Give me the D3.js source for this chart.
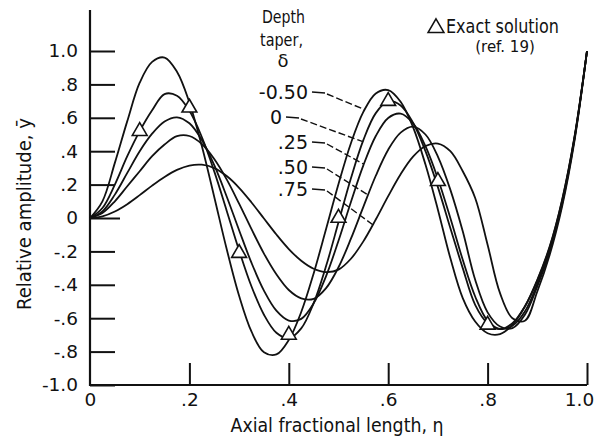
<!DOCTYPE html>
<html>
<head>
<meta charset="utf-8">
<script src="https://cdn.jsdelivr.net/npm/d3@7"></script>
<style>
  body { margin: 0; background: #fff; }
  svg { display: block; }
  text { font-family: "DejaVu Sans", sans-serif; fill: #111; }
</style>
</head>
<body>
<svg id="chart" width="599" height="446"></svg>
<script>
// Axial stations along the beam (fraction of length)
const eta = [0, 0.025, 0.05, 0.075, 0.1, 0.125, 0.15, 0.175, 0.2, 0.225,
             0.25, 0.275, 0.3, 0.325, 0.35, 0.375, 0.4, 0.425, 0.45, 0.475,
             0.5, 0.525, 0.55, 0.575, 0.6, 0.625, 0.65, 0.675, 0.7, 0.725,
             0.75, 0.775, 0.8, 0.825, 0.85, 0.875, 0.9, 0.925, 0.95, 0.975, 1.0];

// Relative amplitude of the mode shape for each depth taper
const ampTaperNeg050 = [0, 0.10, 0.33, 0.58, 0.81, 0.935, 0.961, 0.876, 0.692, 0.431,
  0.126, -0.186, -0.466, -0.681, -0.804, -0.817, -0.730, -0.563, -0.332, -0.066,
  0.204, 0.448, 0.635, 0.746, 0.766, 0.696, 0.544, 0.320, 0.050, -0.240,
  -0.480, -0.620, -0.690, -0.695, -0.64, -0.53, -0.37, -0.17, 0.11, 0.49, 1.0];
const ampTaper000 = [0, 0.06, 0.20, 0.37, 0.52, 0.645, 0.742, 0.732, 0.642, 0.485,
  0.279, 0.044, -0.194, -0.410, -0.579, -0.687, -0.720, -0.661, -0.510, -0.288,
  -0.026, 0.238, 0.466, 0.628, 0.698, 0.674, 0.570, 0.400, 0.185, -0.060,
  -0.300, -0.520, -0.630, -0.665, -0.630, -0.53, -0.375, -0.175, 0.105, 0.485, 1.0];
const ampTaper025 = [0, 0.04, 0.14, 0.27, 0.40, 0.505, 0.578, 0.603, 0.567, 0.467,
  0.316, 0.129, -0.073, -0.269, -0.435, -0.555, -0.614, -0.604, -0.511, -0.348,
  -0.136, 0.096, 0.315, 0.491, 0.599, 0.625, 0.567, 0.430, 0.235, 0.000,
  -0.250, -0.470, -0.615, -0.665, -0.645, -0.56, -0.395, -0.19, 0.095, 0.48, 1.0];
const ampTaper050 = [0, 0.03, 0.10, 0.19, 0.28, 0.37, 0.44, 0.49, 0.491, 0.443,
  0.353, 0.231, 0.086, -0.067, -0.213, -0.337, -0.431, -0.481, -0.484, -0.420,
  -0.295, -0.124, 0.067, 0.253, 0.409, 0.511, 0.547, 0.500, 0.368, 0.170,
  -0.080, -0.370, -0.565, -0.650, -0.660, -0.58, -0.41, -0.20, 0.085, 0.475, 1.0];
const ampTaper075 = [0, 0.010, 0.039, 0.083, 0.137, 0.194, 0.246, 0.288, 0.314, 0.319,
  0.299, 0.251, 0.181, 0.093, -0.003, -0.099, -0.186, -0.256, -0.304, -0.324,
  -0.309, -0.244, -0.140, -0.009, 0.131, 0.262, 0.367, 0.431, 0.446, 0.400,
  0.280, 0.120, -0.160, -0.450, -0.600, -0.615, -0.44, -0.22, 0.07, 0.465, 1.0];

const taperLabels = ["-0.50", "0", ".25", ".50", ".75"];
// station on each curve where its label leader meets it
const leaderEta = [0.553, 0.549, 0.551, 0.5595, 0.569];

// Exact solution for the uniform beam (ref. 19)
const exactEta = [0.1, 0.2, 0.3, 0.4, 0.5, 0.6, 0.7, 0.8];
const exactAmp = [0.52, 0.66, -0.21, -0.70, 0.0, 0.70, 0.22, -0.64];

const xTicks = [0, 0.2, 0.4, 0.6, 0.8, 1.0];
const xTickLabels = ["0", ".2", ".4", ".6", ".8", "1.0"];
const yTicks = [1.0, 0.8, 0.6, 0.4, 0.2, 0, -0.2, -0.4, -0.6, -0.8, -1.0];
const yTickLabels = ["1.0", ".8", ".6", ".4", ".2", "0", "-.2", "-.4", "-.6", "-.8", "-1.0"];

const series = [ampTaperNeg050, ampTaper000, ampTaper025, ampTaper050, ampTaper075];

const svg = d3.select("#chart");
const x = d3.scaleLinear().domain([0, 1]).range([90, 587]);
const y = d3.scaleLinear().domain([-1, 1]).range([385, 51]);
const ink = "#111";

// axes
const yAxis = d3.axisLeft(y).tickValues(yTicks)
  .tickFormat((d, i) => yTickLabels[i]).tickSize(-25).tickSizeOuter(0).tickPadding(12);
const gy = svg.append("g").attr("transform", "translate(90,0)").call(yAxis);
gy.select(".domain").remove();
gy.selectAll(".tick line").attr("stroke", ink).attr("stroke-width", 2)
  .filter(d => d === 0).attr("x2", 30);
gy.selectAll(".tick text").attr("font-size", 18.5).attr("fill", ink);

const xAxis = d3.axisBottom(x).tickValues(xTicks)
  .tickFormat((d, i) => xTickLabels[i]).tickSize(-22).tickSizeOuter(0).tickPadding(8);
const gx = svg.append("g").attr("transform", "translate(0,385)").call(xAxis);
gx.select(".domain").remove();
gx.selectAll(".tick line").attr("stroke", ink).attr("stroke-width", 2)
  .filter(d => d === 0).remove();
gx.selectAll(".tick text").attr("font-size", 18.5).attr("fill", ink)
  .filter(d => d === 1).attr("dx", -8);
gy.attr("font-family", null); gx.attr("font-family", null);

svg.append("line").attr("x1", 90).attr("x2", 90).attr("y1", 10).attr("y2", 386)
  .attr("stroke", ink).attr("stroke-width", 2.2);
svg.append("line").attr("x1", 89).attr("x2", x(1)).attr("y1", 385).attr("y2", 385)
  .attr("stroke", ink).attr("stroke-width", 2.2);

// axis titles
svg.append("text").attr("transform", "translate(31,214) rotate(-90)")
  .attr("text-anchor", "middle").attr("font-size", 19)
  .attr("textLength", 192).attr("lengthAdjust", "spacingAndGlyphs").text("Relative amplitude, ȳ");
svg.append("text").attr("x", 337).attr("y", 432)
  .attr("text-anchor", "middle").attr("font-size", 19)
  .attr("textLength", 213).attr("lengthAdjust", "spacingAndGlyphs").text("Axial fractional length, η");

// mode-shape curves
const line = d3.line().x((d, i) => x(eta[i])).y(d => y(d)).curve(d3.curveCatmullRom.alpha(0.5));
svg.append("g").selectAll("path").data(series).join("path")
  .attr("d", line).attr("fill", "none").attr("stroke", ink).attr("stroke-width", 1.8);

// exact-solution triangles
const tri = d3.symbol().type(d3.symbolTriangle).size(95);
svg.append("g").selectAll("path").data(exactEta).join("path")
  .attr("transform", (d, i) => `translate(${x(d)},${y(exactAmp[i])})`)
  .attr("d", tri).attr("fill", "#fff").attr("stroke", ink).attr("stroke-width", 1.6);

// legend: depth taper labels with leaders
const leg = svg.append("g");
leg.append("text").attr("x", 262).attr("y", 23).attr("font-size", 18)
  .attr("textLength", 43).attr("lengthAdjust", "spacingAndGlyphs").text("Depth");
leg.append("text").attr("x", 260).attr("y", 46).attr("font-size", 18)
  .attr("textLength", 43).attr("lengthAdjust", "spacingAndGlyphs").text("taper,");
leg.append("text").attr("x", 283).attr("y", 67).attr("text-anchor", "middle").attr("font-size", 18).text("δ");

const labelY = [92, 117, 142, 167, 189];
const labelRight = [308, 282, 308, 308, 308];
const interpAt = (arr, e) => {
  const i = Math.min(eta.length - 2, Math.floor(e / 0.025 + 1e-9));
  const t = (e - eta[i]) / (eta[i + 1] - eta[i]);
  return arr[i] + t * (arr[i + 1] - arr[i]);
};
taperLabels.forEach((lab, k) => {
  const ly = labelY[k], lx = labelRight[k];
  leg.append("text").attr("x", lx).attr("y", ly).attr("dy", "0.36em")
    .attr("text-anchor", "end").attr("font-size", 19).text(lab);
  const ex = x(leaderEta[k]), ey = y(interpAt(series[k], leaderEta[k]));
  const sx = lx + 4, mx = sx + 13;
  leg.append("line").attr("x1", sx).attr("y1", ly).attr("x2", mx).attr("y2", ly + 1)
    .attr("stroke", ink).attr("stroke-width", 1.5);
  leg.append("line").attr("x1", mx + 2).attr("y1", ly + 2).attr("x2", ex).attr("y2", ey)
    .attr("stroke", ink).attr("stroke-width", 1.4).attr("stroke-dasharray", "7,3");
});

// legend: exact solution key
leg.append("path").attr("transform", "translate(436,28)").attr("d", d3.symbol().type(d3.symbolTriangle).size(110))
  .attr("fill", "#fff").attr("stroke", ink).attr("stroke-width", 1.5);
leg.append("text").attr("x", 446).attr("y", 33).attr("font-size", 19)
  .attr("textLength", 113).attr("lengthAdjust", "spacingAndGlyphs").text("Exact solution");
leg.append("text").attr("x", 505).attr("y", 52).attr("text-anchor", "middle").attr("font-size", 15).text("(ref. 19)");
</script>
</body>
</html>
